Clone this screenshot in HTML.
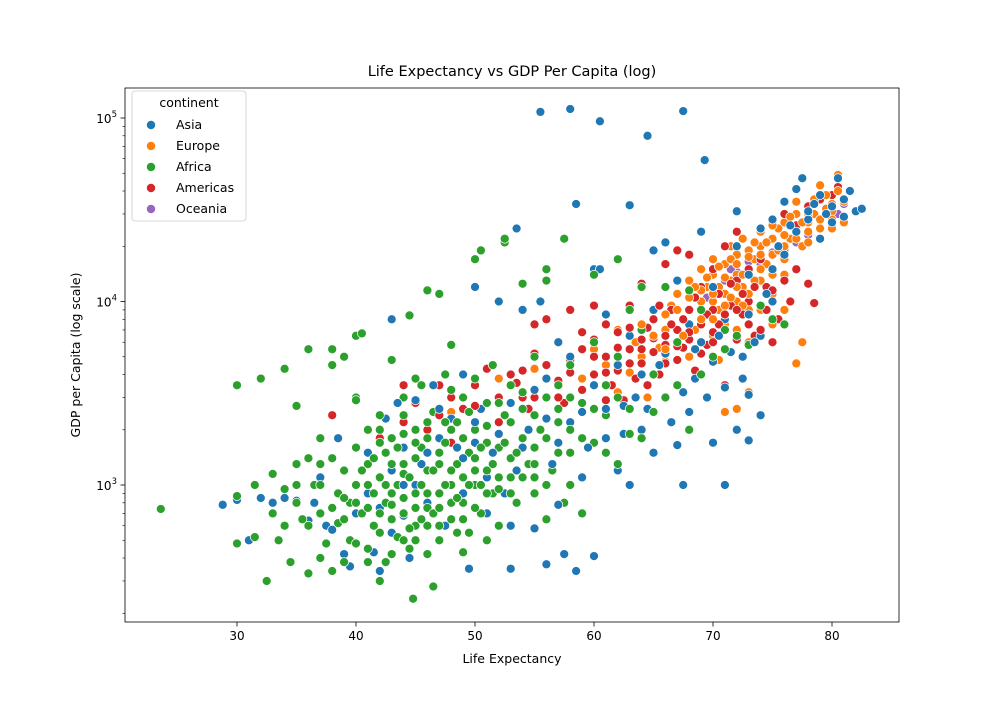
<!DOCTYPE html>
<html><head><meta charset="utf-8"><style>
body{margin:0;background:#fff;}
svg text{font-family:"DejaVu Sans","Liberation Sans",sans-serif;fill:#000;}
</style></head><body>
<svg id="chart" width="1000" height="700" xmlns="http://www.w3.org/2000/svg">
<rect x="0" y="0" width="1000" height="700" fill="#fff"/>
<g id="points"></g>
<g id="axes"></g>
<text x="512" y="76" text-anchor="middle" font-size="14.5">Life Expectancy vs GDP Per Capita (log)</text>
<text x="512" y="663" text-anchor="middle" font-size="12.5">Life Expectancy</text>
<text transform="translate(80,355) rotate(-90)" text-anchor="middle" font-size="12.5">GDP per Capita (log scale)</text>
<g id="legend"></g>
</svg>
<script>
const continents=["Asia","Europe","Africa","Americas","Oceania"];
const colors=["#1f77b4","#ff7f0e","#2ca02c","#d62728","#9467bd"];
const xTicks=[30,40,50,60,70,80];
const yTicks=[3,4,5];
const asiaPts=[[28.8,780],[30,830],[31,500],[32,850],[33,800],[34,850],[35,820],[36,640],[37,1100],[37.5,600],[38,570],[39,420],[39.5,360],[40,6500],[40,3000],[40,700],[41,900],[41.5,430],[42,340],[42,750],[42.5,2300],[43,8000],[43,1200],[43,550],[44,1600],[44,680],[44.5,400],[45,2900],[45,1000],[46,11500],[46,800],[46.5,3500],[47,11000],[47,1800],[47.5,600],[48,2300],[48,1200],[49,4000],[49,900],[49.5,350],[50,12000],[50,1700],[50.5,2600],[51,1100],[51,700],[52,10000],[52,1900],[53,350],[53,2800],[53.5,25000],[53.5,1200],[54,9000],[54,1600],[55,900],[55.5,108000],[55.5,10000],[56,370],[56,2300],[56,3800],[57,1700],[57,6000],[57.5,420],[58,112000],[58,1500],[58,5000],[58.5,34000],[58.5,340],[59,2500],[59,1100],[60,15000],[60,410],[60,3500],[60.5,96000],[60.5,15000],[61,1800],[61,8500],[62,1200],[62,4500],[62.5,2700],[63,33500],[63,6500],[63,1000],[64,2000],[64,4000],[64.5,80000],[65,19000],[65,1500],[65,9000],[66,3000],[66,21000],[66,5200],[67,1650],[67,13000],[67.5,109000],[67.5,1000],[68,2500],[68,7500],[68.5,3800],[69,6000],[69,24000],[69.3,59000],[70,1700],[70,4700],[70,12000],[71,1000],[71,3400],[71,8000],[72,31000],[72,2000],[72,20000],[72.5,5000],[73,1750],[73,3100],[73,14000],[74,2400],[74,6500],[74,25000],[75,10000],[75,28000],[76,35000],[76,18000],[77,41000],[77,24000],[78,28000],[78,31000],[79,38000],[80,27000],[80,33000],[80.5,47000],[81,29000],[81.5,40000],[82,31000],[82.5,32000],[77.5,47000],[79,22000],[75,15000],[73,8500],[36.5,800],[38.5,1800],[41,1500],[43.5,2800],[45.5,1300],[47,2600],[48.5,1600],[50,2200],[51.5,1500],[52.5,900],[54.5,2000],[55,3300],[56.5,1300],[58,2200],[59.5,1600],[61,2600],[62.5,1900],[63.5,3000],[64.5,2600],[65.5,4500],[66.5,2200],[67.5,3200],[68.5,5500],[69.5,3000],[70.5,6500],[71.5,5300],[72.5,3800],[73.5,6000],[74.5,11000],[75.5,20000],[76.5,26000],[78.5,34000],[79.5,30000],[81,36000],[44,1000],[46,1500],[49,1400],[53,600],[55,580],[57,780]];
const europePts=[[43.5,1600],[48,2500],[52,3800],[55,4300],[57,3500],[59,3800],[60,5500],[61,4500],[62,3200],[62,7000],[63,4100],[63.5,6000],[64,5000],[64.5,3000],[65,8000],[65.5,5600],[66,7000],[66,4700],[66.5,9500],[67,6000],[67,11000],[67.5,8000],[68,9000],[68,13000],[68.5,7000],[69,10000],[69,15000],[69.5,8500],[69.5,12000],[70,6500],[70,10000],[70,14000],[70,17000],[70.5,9000],[70.5,12000],[71,11000],[71,16000],[71,7500],[71,2500],[71.5,13000],[71.5,20000],[72,10000],[72,14000],[72,18000],[72,2600],[72.5,12000],[72.5,22000],[73,15000],[73,9000],[73,3200],[73,19000],[73.5,17000],[74,13000],[74,20000],[74,24000],[74.5,16000],[75,18000],[75,22000],[75,11000],[75.5,25000],[76,20000],[76,27000],[76,14000],[76.5,22000],[77,25000],[77,30000],[77,4600],[77.5,6000],[77.5,20000],[78,27000],[78,33000],[78,24000],[78.5,30000],[79,28000],[79,36000],[79,43000],[79.5,32000],[80,31000],[80,38000],[80.5,49000],[81,35000],[80,25000],[81,27000],[76,9000],[74,9000],[68,5000],[66,8500],[70.5,4800],[69,11500],[69.5,13500],[70,11000],[70.5,15500],[71,9500],[71,13500],[71.5,10500],[71.5,17000],[72,12000],[72,16000],[72.5,9500],[72.5,14000],[73,11000],[73,17500],[73.5,13000],[73.5,21000],[74,15000],[74,18000],[74.5,21000],[75,14000],[75,26000],[75.5,19000],[76,23000],[76,17000],[76.5,29000],[77,22000],[77,35000],[77.5,27000],[78,21000],[78,30000],[78.5,36000],[79,25000],[79.5,38000],[80,28000],[80,34000],[80.5,40000],[67,9000],[68,10500],[68.5,12000],[69,8000],[67.5,6500],[66,5500],[65,6500],[64,7500],[70,8000],[72,7000],[73,6000],[75,7500]];
const africaPts=[[23.6,740],[30,3500],[30,480],[30,870],[31.5,1000],[31.5,520],[32,3800],[32.5,300],[33,1150],[33.5,500],[34,4300],[34,600],[34.5,380],[35,2700],[35,1300],[35,800],[35.5,650],[36,5500],[36,330],[36,1400],[36.5,1000],[37,1800],[37,700],[37.5,480],[38,5500],[38,340],[38,1400],[38.5,900],[38.5,620],[39,5000],[39,1200],[39.5,800],[39.5,500],[40,6500],[40,3000],[40,1600],[40,1000],[40.5,6700],[40.5,700],[41,2000],[41,1300],[41,450],[41.5,900],[41.5,600],[42,300],[42,2400],[42,1100],[42.5,1500],[42.5,800],[42.5,380],[43,4800],[43,650],[43,1800],[43.5,1000],[43.5,520],[44,3000],[44,1300],[44,700],[44.5,8400],[44.5,450],[44.8,240],[45,2000],[45,900],[45,600],[45.5,1600],[45.5,3500],[46,11500],[46,1200],[46,750],[46.5,280],[46.5,2500],[47,11000],[47,900],[47,500],[47.5,1700],[47.5,4000],[48,5800],[48,1000],[48,650],[48.5,2200],[48.5,1300],[49,800],[49,3000],[49.5,1500],[49.5,550],[50,17000],[50,2000],[50,1000],[50.5,19000],[50.5,700],[51,1200],[51,2800],[51.5,4500],[51.5,900],[52,1600],[52,600],[52.5,21000],[52.5,22000],[52.5,2400],[53,1100],[53,3500],[53.5,800],[54,1800],[54,2600],[54.5,1300],[55,5000],[55,900],[55.5,2000],[56,15000],[56,13000],[56,3000],[56.5,1200],[57,2200],[57.5,22000],[57.5,800],[58,4500],[58,1500],[59,2800],[59,700],[60,6000],[60,1700],[61,3500],[61,2400],[62,1300],[62,5000],[63,9000],[63,2600],[64,7000],[64,1800],[65,4000],[66,3000],[67,6000],[68,11500],[68,2000],[69,9000],[70,5000],[71,7000],[72,6500],[73,5800],[74,9500],[75,8000],[76,7500],[54,12500],[60,14000],[62,17000],[66,12000],[64,12000],[48,3300],[46,2200],[44,1900],[42,2000],[40,2900],[38,4500],[45,3800],[50,3800],[53,2200],[57,2600],[55,1600],[51,500],[49,430],[46,420],[44,1150],[41,750],[43,900],[45,1400],[47,1300],[49,1100],[51,1700],[53,1400],[39,850],[37,1000],[36,600],[44,500],[46,600],[48,800],[50,1400],[52,950],[55,1100],[58,1000],[56,650],[42,550],[40,480],[38,750],[39,650],[40,800],[40.5,1200],[41,1000],[41.5,1400],[42,700],[42,1700],[42.5,1000],[43,1300],[43,780],[43.5,1600],[44,850],[44,2400],[44.5,1100],[44.5,580],[45,1700],[45,750],[45.5,1000],[45.5,650],[46,900],[46,1800],[46.5,1200],[46.5,700],[47,1500],[47,750],[47.5,1000],[47.5,2200],[48,1200],[48,2000],[48.5,850],[48.5,550],[49,1800],[49,650],[49.5,1000],[49.5,2500],[50,1200],[50,750],[50.5,1600],[50.5,1000],[51,900],[51,2100],[51.5,1300],[52,1100],[52,2800],[52.5,1700],[53,900],[53.5,1500],[54,1100],[54,3200],[55,1300],[55,2400],[56,1800],[56,1000],[57,1500],[57,3500],[58,2000],[58,3000],[59,1800],[60,2600],[61,1500],[62,3000],[63,1900],[65,2500],[67,3500],[69,4000],[71,5500],[37,1300],[35,1000],[34,950],[33,700],[37,400],[39,380],[41,380],[43,420],[45,500],[47,600]];
const americasPts=[[38,2400],[40,2900],[42,1800],[44,3500],[45,2800],[46,2000],[47,3500],[48,3000],[48,1700],[49,2600],[50,3500],[50,2000],[51,4300],[52,2200],[52,3000],[53,4000],[53.5,3600],[54,4200],[54.5,2600],[55,5200],[55,3000],[56,4500],[56,8000],[57,3700],[57,6000],[57.5,2800],[58,4800],[58,9000],[59,5500],[59,3300],[60,6200],[60,4000],[61,5000],[61,7500],[61.5,3500],[62,6800],[62,4200],[62.5,2900],[63,5500],[63,9500],[63.5,3800],[64,6200],[64,4600],[64.5,7200],[65,5300],[65,8000],[65.5,4000],[66,6500],[66,5800],[66.5,9000],[67,4800],[67,7000],[67.5,5600],[68,6200],[68,9000],[68,18000],[68.5,4200],[69,7500],[69,12000],[69.5,5800],[70,9000],[70,6800],[70,15000],[70.5,11000],[71,7000],[71,20000],[71,3500],[71.5,9500],[72,6200],[72,13000],[72,24000],[72.5,8500],[73,10000],[73,15000],[73.5,6500],[74,9000],[74,17000],[74.5,12000],[75,11500],[75,27000],[75.5,8000],[76,13000],[76,30000],[76.5,10000],[77,15000],[77,26000],[78,33000],[78,12500],[78.5,9800],[79,36000],[80,38000],[80.5,42000],[66,16000],[64,12500],[67,19000],[55,7500],[60,9500],[58,4100],[59,6800],[60,5000],[61,4100],[62,5600],[63,4600],[63,7200],[64,5500],[64.5,3500],[65,6300],[65.5,9500],[66,4600],[66.5,7500],[67,5700],[67.5,8000],[68,6800],[68.5,10500],[69,5200],[69.5,8500],[70,6000],[70.5,7500],[71,8500],[71.5,12500],[72,9000],[72.5,11000],[73,7500],[73.5,12000],[74,7000],[74.5,9000],[75,6000],[61,2900],[57,3000],[54,3000],[50,2700],[47,2400],[44,2200]];
const oceaniaPts=[[69,10000],[70,12000],[71,13000],[72,14500],[74,16000],[76,19000],[78,23000],[80,26000],[81,34000],[69.5,10500],[71.5,15000],[73,16500],[75,18500],[77,21000],[79,28000],[80.5,30000]];

const NS="http://www.w3.org/2000/svg";
const L=125,R=899,T=88,B=622;
const xMin=20.59,xMax=85.63,yMin=2.2535,yMax=5.1635;
function xs(v){return L+(v-xMin)/(xMax-xMin)*(R-L);}
function ys(v){return B-(Math.log10(v)-yMin)/(yMax-yMin)*(B-T);}
function mk(tag,attrs,parent){const e=document.createElementNS(NS,tag);for(const k in attrs)e.setAttribute(k,attrs[k]);parent.appendChild(e);return e;}

const pg=document.getElementById('points');
const sets=[asiaPts,europePts,africaPts,americasPts,oceaniaPts];
const maxLen=Math.max(...sets.map(s=>s.length));
for(let i=0;i<maxLen;i++){
  sets.forEach((s,ci)=>{
    if(i<s.length){
      const c=mk('circle',{cx:xs(s[i][0]).toFixed(1),cy:ys(s[i][1]).toFixed(1),r:4.5,fill:colors[ci],stroke:'#fff','stroke-width':0.75},pg);
      
      
    }
  });
}

const ax=document.getElementById('axes');
const frame=mk('rect',{x:L,y:T,width:R-L,height:B-T,fill:'none',stroke:'#000','stroke-width':0.8},ax);


xTicks.forEach(t=>{
  const x=xs(t);
  mk('line',{x1:x,x2:x,y1:B,y2:B+4.5,stroke:'#000','stroke-width':0.8},ax);
  const tx=mk('text',{x:x,y:B+18,'text-anchor':'middle','font-size':12},ax);
  tx.textContent=t;
  
  
});
yTicks.forEach(p=>{
  const y=ys(Math.pow(10,p));
  mk('line',{x1:L-4.5,x2:L,y1:y,y2:y,stroke:'#000','stroke-width':0.8},ax);
  const tx=mk('text',{x:L-8,y:y+5,'text-anchor':'end','font-size':12},ax);
  tx.textContent='10';
  const sup=mk('tspan',{dy:-6,'font-size':8.5},tx);
  sup.textContent=p;
  
  
});
for(let p=2;p<=5;p++){for(let m=2;m<=9;m++){const v=m*Math.pow(10,p);const lv=Math.log10(v);if(lv<yMin||lv>yMax)continue;const y=ys(v);mk('line',{x1:L-2.5,x2:L,y1:y,y2:y,stroke:'#000','stroke-width':0.6},ax);}}

const lg=document.getElementById('legend');
mk('rect',{x:132,y:91,width:114,height:130,rx:3,fill:'#fff','fill-opacity':0.8,stroke:'#ccc','stroke-width':0.8},lg);
const lt=mk('text',{x:189,y:107,'text-anchor':'middle','font-size':12.5},lg);
lt.textContent='continent';


continents.forEach((c,i)=>{
  const y=124+i*21;
  const g=mk('g',{},lg);
  
  
  mk('circle',{cx:151,cy:y+1,r:4.6,fill:colors[i],stroke:'#fff','stroke-width':0.75},g);
  const t=mk('text',{x:176,y:y+5,'font-size':12.5},g);
  t.textContent=c;
});
</script>
</body></html>
